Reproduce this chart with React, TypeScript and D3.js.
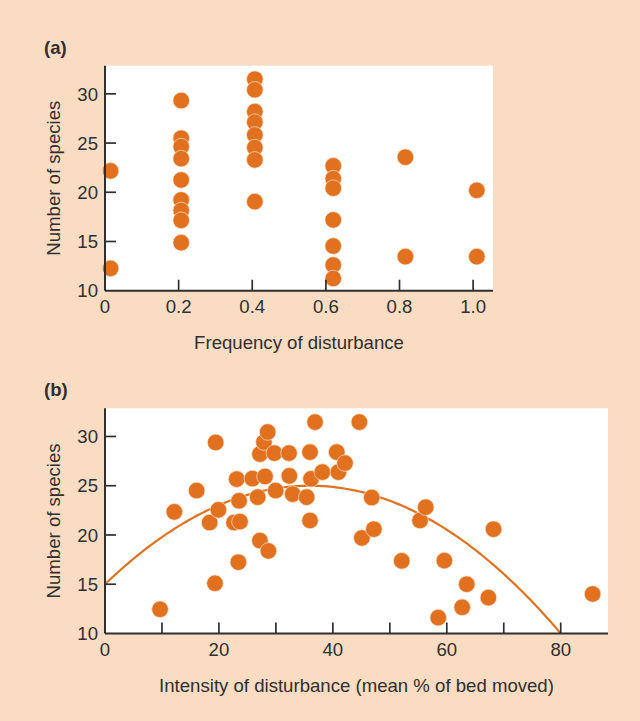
import React from "react";
import * as d3 from "d3";

// (a) frequency of disturbance vs number of species
const freqPoints: [number, number][] = [
  [0.015, 22.17], [0.015, 12.27],
  [0.207, 29.32], [0.207, 25.49], [0.207, 24.64], [0.207, 23.42], [0.207, 21.25],
  [0.207, 19.22], [0.207, 18.15], [0.207, 17.15], [0.207, 14.88],
  [0.407, 31.49], [0.407, 30.41], [0.407, 28.2], [0.407, 27.12], [0.407, 25.83],
  [0.407, 24.54], [0.407, 23.29], [0.407, 19.05],
  [0.62, 22.68], [0.62, 21.38], [0.62, 20.41], [0.62, 17.19], [0.62, 14.54],
  [0.62, 12.61], [0.62, 11.24],
  [0.816, 23.56], [0.816, 13.46],
  [1.01, 20.2], [1.01, 13.46],
];

// (b) intensity of disturbance vs number of species
const intensityPoints: [number, number][] = [
  [9.66, 12.46], [12.17, 22.35], [16.09, 24.51], [19.43, 29.39], [19.31, 15.1],
  [18.37, 21.26], [19.9, 22.55], [23.12, 25.67], [23.53, 23.47], [22.65, 21.26],
  [23.7, 21.36], [23.41, 17.24], [25.87, 25.73], [28.09, 25.94], [26.8, 23.84],
  [27.2, 19.43], [28.68, 18.38], [27.2, 28.21], [27.9, 29.43], [28.56, 30.45],
  [29.73, 28.31], [29.96, 24.51], [32.3, 28.31], [32.36, 26.0], [32.95, 24.15],
  [35.4, 23.84], [35.99, 28.41], [35.99, 21.47], [36.87, 31.46], [36.17, 25.7],
  [38.15, 26.38], [40.68, 28.41], [40.97, 26.38], [42.13, 27.3], [44.65, 31.46],
  [46.82, 23.8], [45.1, 19.7], [47.2, 20.59], [52.09, 17.37], [55.3, 21.47],
  [56.3, 22.82], [68.2, 20.59], [59.57, 17.4], [63.5, 15.0], [67.3, 13.64],
  [62.7, 12.66], [58.5, 11.61], [85.6, 14.01],
];

// quadratic fit: y = c0 + c1*x + c2*x^2, drawn from x = 0 to 80
const fitCoef = [15, 0.5562, -0.007733];
const fitRange = [0, 80];

const freqTicks = [0, 0.2, 0.4, 0.6, 0.8, 1.0];
const intensityTicks = [10, 20, 30, 40, 50, 60, 70, 80];
const intensityLabels = [0, 20, 40, 60, 80];
const speciesTicks = [10, 15, 20, 25, 30];

const BG = "#FADCC3";
const DOT = "#E2711F";
const INK = "#2f2f2f";
const FONT = "'Liberation Sans', Arial, Helvetica, sans-serif";
const FS = 18.6;

type PanelProps = {
  label: string;
  xTitle: string;
  x: d3.ScaleLinear<number, number>;
  y: d3.ScaleLinear<number, number>;
  xTicks: number[];
  xLabels: number[];
  fmt: (v: number) => string;
  points: [number, number][];
  children?: React.ReactNode;
};

function Panel({ label, xTitle, x, y, xTicks, xLabels, fmt, points, children }: PanelProps) {
  const [x0, x1] = x.range();
  const [y0, y1] = y.range();
  const left = x0;
  return (
    <g fontFamily={FONT} fill={INK}>
      <text x={44} y={y1 - 12} fontSize={FS} fontWeight="bold">
        {label}
      </text>
      <rect x={x0} y={y1} width={x1 - x0} height={y0 - y1} fill="#fff" />
      {children}
      {points.map(([px, py], i) => (
        <circle
          key={i}
          cx={x(px)}
          cy={y(py)}
          r={8.3}
          fill={DOT}
          stroke="#fbe3d0"
          strokeWidth={0.7}
        />
      ))}
      {/* axes */}
      <line x1={left} x2={x1} y1={y0} y2={y0} stroke={INK} strokeWidth={2} />
      <line x1={left} x2={left} y1={y0} y2={y1} stroke={INK} strokeWidth={2} />
      {xTicks.filter((t) => t > 0).map((t) => (
        <line key={t} x1={x(t)} x2={x(t)} y1={y0} y2={y0 - 11} stroke={INK} strokeWidth={1.7} />
      ))}
      {speciesTicks.filter((t) => t > 10).map((t) => (
        <line key={t} x1={left} x2={left + 11} y1={y(t)} y2={y(t)} stroke={INK} strokeWidth={1.7} />
      ))}
      {xLabels.map((t) => (
        <text key={t} x={x(t)} y={y0 + 22} fontSize={FS} textAnchor="middle">
          {fmt(t)}
        </text>
      ))}
      {speciesTicks.map((t) => (
        <text key={t} x={left - 7} y={y(t)} dy="0.36em" fontSize={FS} textAnchor="end">
          {t}
        </text>
      ))}
      <text x={(x0 + x1) / 2} y={y0 + 58} fontSize={FS} textAnchor="middle">
        {xTitle}
      </text>
      <text
        transform={`translate(60,${(y0 + y1) / 2}) rotate(-90)`}
        fontSize={FS}
        textAnchor="middle"
      >
        Number of species
      </text>
    </g>
  );
}

export default function App() {
  const xa = d3.scaleLinear().domain([0, 1.054]).range([105, 493]);
  const ya = d3.scaleLinear().domain([10, 32.86]).range([290.7, 65.7]);
  const xb = d3.scaleLinear().domain([0, 88.3]).range([105, 608]);
  const yb = d3.scaleLinear().domain([10, 32.86]).range([633.5, 408.3]);

  const fitX = d3.range(fitRange[0], fitRange[1] + 0.001, 0.5);
  const fitLine = d3
    .line<number>()
    .x((v) => xb(v))
    .y((v) => yb(fitCoef[0] + fitCoef[1] * v + fitCoef[2] * v * v))(fitX);

  return (
    <svg
      width={640}
      height={721}
      style={{ position: "absolute", left: 0, top: 0, display: "block" }}
    >
      <rect width={640} height={721} fill={BG} />
      <Panel
        label="(a)"
        xTitle="Frequency of disturbance"
        x={xa}
        y={ya}
        xTicks={freqTicks}
        xLabels={freqTicks}
        fmt={(v) => (v === 0 ? "0" : v.toFixed(1))}
        points={freqPoints}
      />
      <Panel
        label="(b)"
        xTitle="Intensity of disturbance (mean % of bed moved)"
        x={xb}
        y={yb}
        xTicks={intensityTicks}
        xLabels={intensityLabels}
        fmt={(v) => String(v)}
        points={intensityPoints}
      >
        <path d={fitLine ?? ""} fill="none" stroke={DOT} strokeWidth={2.2} />
      </Panel>
    </svg>
  );
}
